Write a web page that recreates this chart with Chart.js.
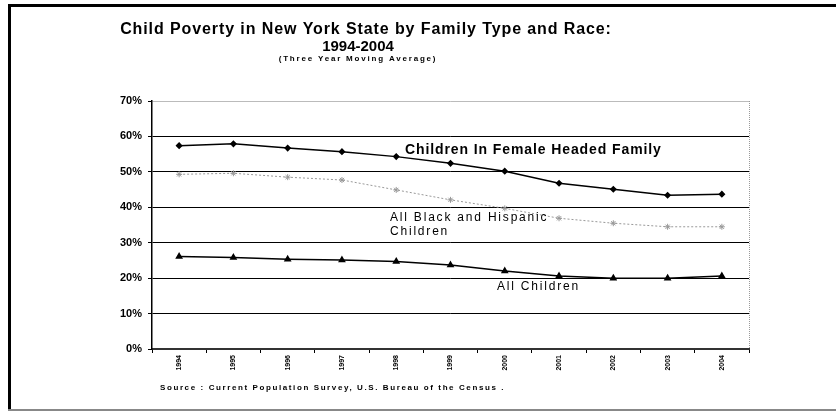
<!DOCTYPE html>
<html>
<head>
<meta charset="utf-8">
<script src="https://cdn.jsdelivr.net/npm/chart.js@4"></script>
<style>
  body { margin: 0; background: #fff; }
  #wrap { width: 836px; height: 412px; position: relative; }
</style>
</head>
<body>
<div id="wrap"><canvas id="povertyChart" width="836" height="412"></canvas></div>
<script>
// chart data
const years = ['1994', '1995', '1996', '1997', '1998', '1999', '2000', '2001', '2002', '2003', '2004'];
const femaleHeaded = [57.4, 57.9, 56.7, 55.7, 54.3, 52.4, 50.2, 46.8, 45.1, 43.4, 43.7];
const blackHispanic = [49.3, 49.6, 48.5, 47.7, 44.9, 42.1, 39.7, 36.9, 35.5, 34.5, 34.5];
const allChildren = [26.1, 25.8, 25.3, 25.1, 24.7, 23.7, 22.0, 20.6, 20.0, 20.0, 20.6];
const yTicks = [0, 10, 20, 30, 40, 50, 60, 70];

const titleLines = ['Child Poverty in New York State by Family Type and Race:', '1994-2004'];
const subTitle = '(Three Year Moving Average)';
const sourceNote = 'Source : Current Population Survey, U.S. Bureau of the Census .';

const FONT = "Arial, 'Liberation Sans', sans-serif";

function drawText(ctx, txt, x, y, font, align, spacing) {
    ctx.save();
    ctx.font = font;
    ctx.fillStyle = '#000';
    ctx.textAlign = align || 'left';
    ctx.textBaseline = 'middle';
    ctx.letterSpacing = (spacing || 0) + 'px';
    ctx.fillText(txt, x, y);
    ctx.restore();
}

// frame, titles and line labels
const decorations = {
    id: 'decorations',
    beforeDraw(chart) {
        const ctx = chart.ctx;
        ctx.save();
        ctx.fillStyle = '#fff';
        ctx.fillRect(0, 0, chart.width, chart.height);
        ctx.fillStyle = '#000';
        ctx.fillRect(8, 4, 828, 3);
        ctx.fillRect(8, 4, 3, 406);
        ctx.fillStyle = '#888';
        ctx.fillRect(8, 409, 828, 2);
        ctx.restore();
    },
    afterDraw(chart) {
        const ctx = chart.ctx;
        const area = chart.chartArea;
        // dotted right edge of plot
        ctx.save();
        ctx.strokeStyle = '#999';
        ctx.lineWidth = 1;
        ctx.setLineDash([1, 1]);
        ctx.beginPath();
        ctx.moveTo(area.right + 0.5, area.top);
        ctx.lineTo(area.right + 0.5, area.bottom);
        ctx.stroke();
        ctx.restore();

        drawText(ctx, titleLines[0], 366, 30, 'bold 16px ' + FONT, 'center', 0.9);
        drawText(ctx, titleLines[1], 358, 47, 'bold 15px ' + FONT, 'center', 0);
        drawText(ctx, subTitle, 358, 59, 'bold 8px ' + FONT, 'center', 1.8);

        drawText(ctx, 'Children In Female Headed Family', 405, 150, 'bold 14px ' + FONT, 'left', 0.9);
        drawText(ctx, 'All Black and Hispanic', 390, 218, '12px ' + FONT, 'left', 1.8);
        drawText(ctx, 'Children', 390, 232, '12px ' + FONT, 'left', 1.8);
        drawText(ctx, 'All Children', 497, 287, '12px ' + FONT, 'left', 1.8);

        drawText(ctx, sourceNote, 160, 388, 'bold 8px ' + FONT, 'left', 1.6);
    }
};

const ctx = document.getElementById('povertyChart').getContext('2d');

window.povertyChart = new Chart(ctx, {
    type: 'line',
    data: {
        labels: years,
        datasets: [
            {
                label: 'Children In Female Headed Family',
                data: femaleHeaded,
                borderColor: '#000',
                backgroundColor: '#000',
                borderWidth: 1.5,
                pointStyle: 'rectRot',
                pointRadius: 2.5,
                tension: 0
            },
            {
                label: 'All Black and Hispanic Children',
                data: blackHispanic,
                borderColor: '#999',
                backgroundColor: '#999',
                borderWidth: 1,
                borderDash: [2, 2],
                pointStyle: 'star',
                pointRadius: 3,
                tension: 0
            },
            {
                label: 'All Children',
                data: allChildren,
                borderColor: '#000',
                backgroundColor: '#000',
                borderWidth: 1.5,
                pointStyle: 'triangle',
                pointRadius: 3,
                tension: 0
            }
        ]
    },
    options: {
        responsive: false,
        animation: false,
        layout: { padding: { left: 0, right: 87, top: 101, bottom: 33 } },
        plugins: {
            legend: { display: false },
            tooltip: { enabled: false }
        },
        scales: {
            x: {
                offset: true,
                grid: {
                    display: true,
                    offset: true,
                    drawOnChartArea: false,
                    drawTicks: true,
                    tickLength: 4,
                    tickColor: '#000'
                },
                border: { color: '#333', width: 2 },
                ticks: {
                    minRotation: 90,
                    maxRotation: 90,
                    padding: 2,
                    color: '#000',
                    font: { family: FONT, size: 7, weight: 'bold' }
                },
                afterFit(scale) { scale.height = 30; }
            },
            y: {
                min: 0,
                max: 70,
                afterBuildTicks(scale) {
                    scale.ticks = yTicks.map(v => ({ value: v }));
                },
                grid: {
                    color: c => (c.tick && c.tick.value === 70) ? '#bbb' : '#000',
                    lineWidth: 1,
                    tickLength: 4,
                    tickColor: '#000'
                },
                border: { color: '#000', width: 1.5 },
                ticks: {
                    padding: 6,
                    color: '#000',
                    font: { family: FONT, size: 11, weight: 'bold' },
                    callback: v => v + '%'
                },
                afterFit(scale) { scale.width = 152; }
            }
        }
    },
    plugins: [decorations]
});
</script>
</body>
</html>
